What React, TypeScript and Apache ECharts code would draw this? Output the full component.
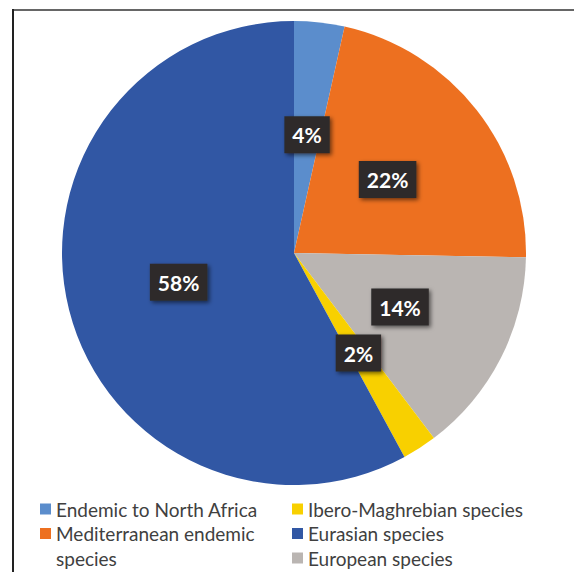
import React, { useEffect, useRef } from "react";
import * as echarts from "echarts";

const categories = [
  "Endemic to North Africa",
  "Mediterranean endemic species",
  "European species",
  "Ibero-Maghrebian species",
  "Eurasian species",
];
const values = [3.5, 21.8, 14.4, 2.4, 57.9];
const colors = ["#5b8dcc", "#ed7020", "#bab5b2", "#f8d000", "#3157a4"];
const legendLeft = ["Endemic to North Africa", "Mediterranean endemic species"];
const legendRight = ["Ibero-Maghrebian species", "Eurasian species", "European species"];

export default function App() {
  const ref = useRef<HTMLDivElement>(null);
  useEffect(() => {
    document.body.style.margin = "0";
    const chart = echarts.init(ref.current!, undefined, { renderer: "svg" });
    const legendText = {
      fontFamily: "Lato",
      fontSize: 19,
      color: "#404040",
      lineHeight: 24,
    };
    const legendCommon = {
      orient: "vertical" as const,
      padding: 0,
      height: 300,
      itemWidth: 11,
      itemHeight: 11,
      itemGap: 0.5,
      icon: "rect",
      selectedMode: false,
      textStyle: legendText,
    };
    chart.setOption({
      animation: false,
      backgroundColor: "#ffffff",
      color: colors,
      graphic: [
        {
          type: "line",
          shape: { x1: 12, y1: 10, x2: 574, y2: 10 },
          style: { stroke: "#666666", lineWidth: 2 },
        },
        {
          type: "line",
          shape: { x1: 13, y1: 9, x2: 13, y2: 572 },
          style: { stroke: "#222222", lineWidth: 2 },
        },
        {
          type: "text",
          x: 56,
          y: 558,
          style: {
            text: "species",
            fontFamily: "Lato",
            fontSize: 19,
            fill: "#404040",
            verticalAlign: "middle",
            align: "left",
          },
        },
      ],
      legend: [
        {
          ...legendCommon,
          left: 40,
          top: 497,
          data: legendLeft,
          formatter: (n: string) =>
            n === "Mediterranean endemic species" ? "Mediterranean endemic" : n,
        },
        {
          ...legendCommon,
          left: 292,
          top: 497,
          data: legendRight,
        },
      ],
      series: [
        {
          type: "pie",
          center: [294, 253],
          radius: [0, 232],
          startAngle: 90,
          clockwise: true,
          avoidLabelOverlap: false,
          itemStyle: { borderWidth: 0 },
          label: {
            show: true,
            position: "inside",
            formatter: (p: any) => Math.round(p.value) + "%",
            fontFamily: "Lato",
            fontWeight: "bold",
            fontSize: 21,
            color: "#ffffff",
            backgroundColor: "#2f2b2b",
            padding: [9, 8, 8, 8],
            lineHeight: 20,
            shadowColor: "rgba(0,0,0,0.55)",
            shadowBlur: 4,
            shadowOffsetX: 2,
            shadowOffsetY: 2,
          },
          labelLine: { show: false },
          emphasis: { disabled: true },
          data: categories.map((c, i) => ({ name: c, value: values[i] })),
        },
      ],
    });
    return () => chart.dispose();
  }, []);
  return <div ref={ref} style={{ width: 574, height: 572 }} />;
}
